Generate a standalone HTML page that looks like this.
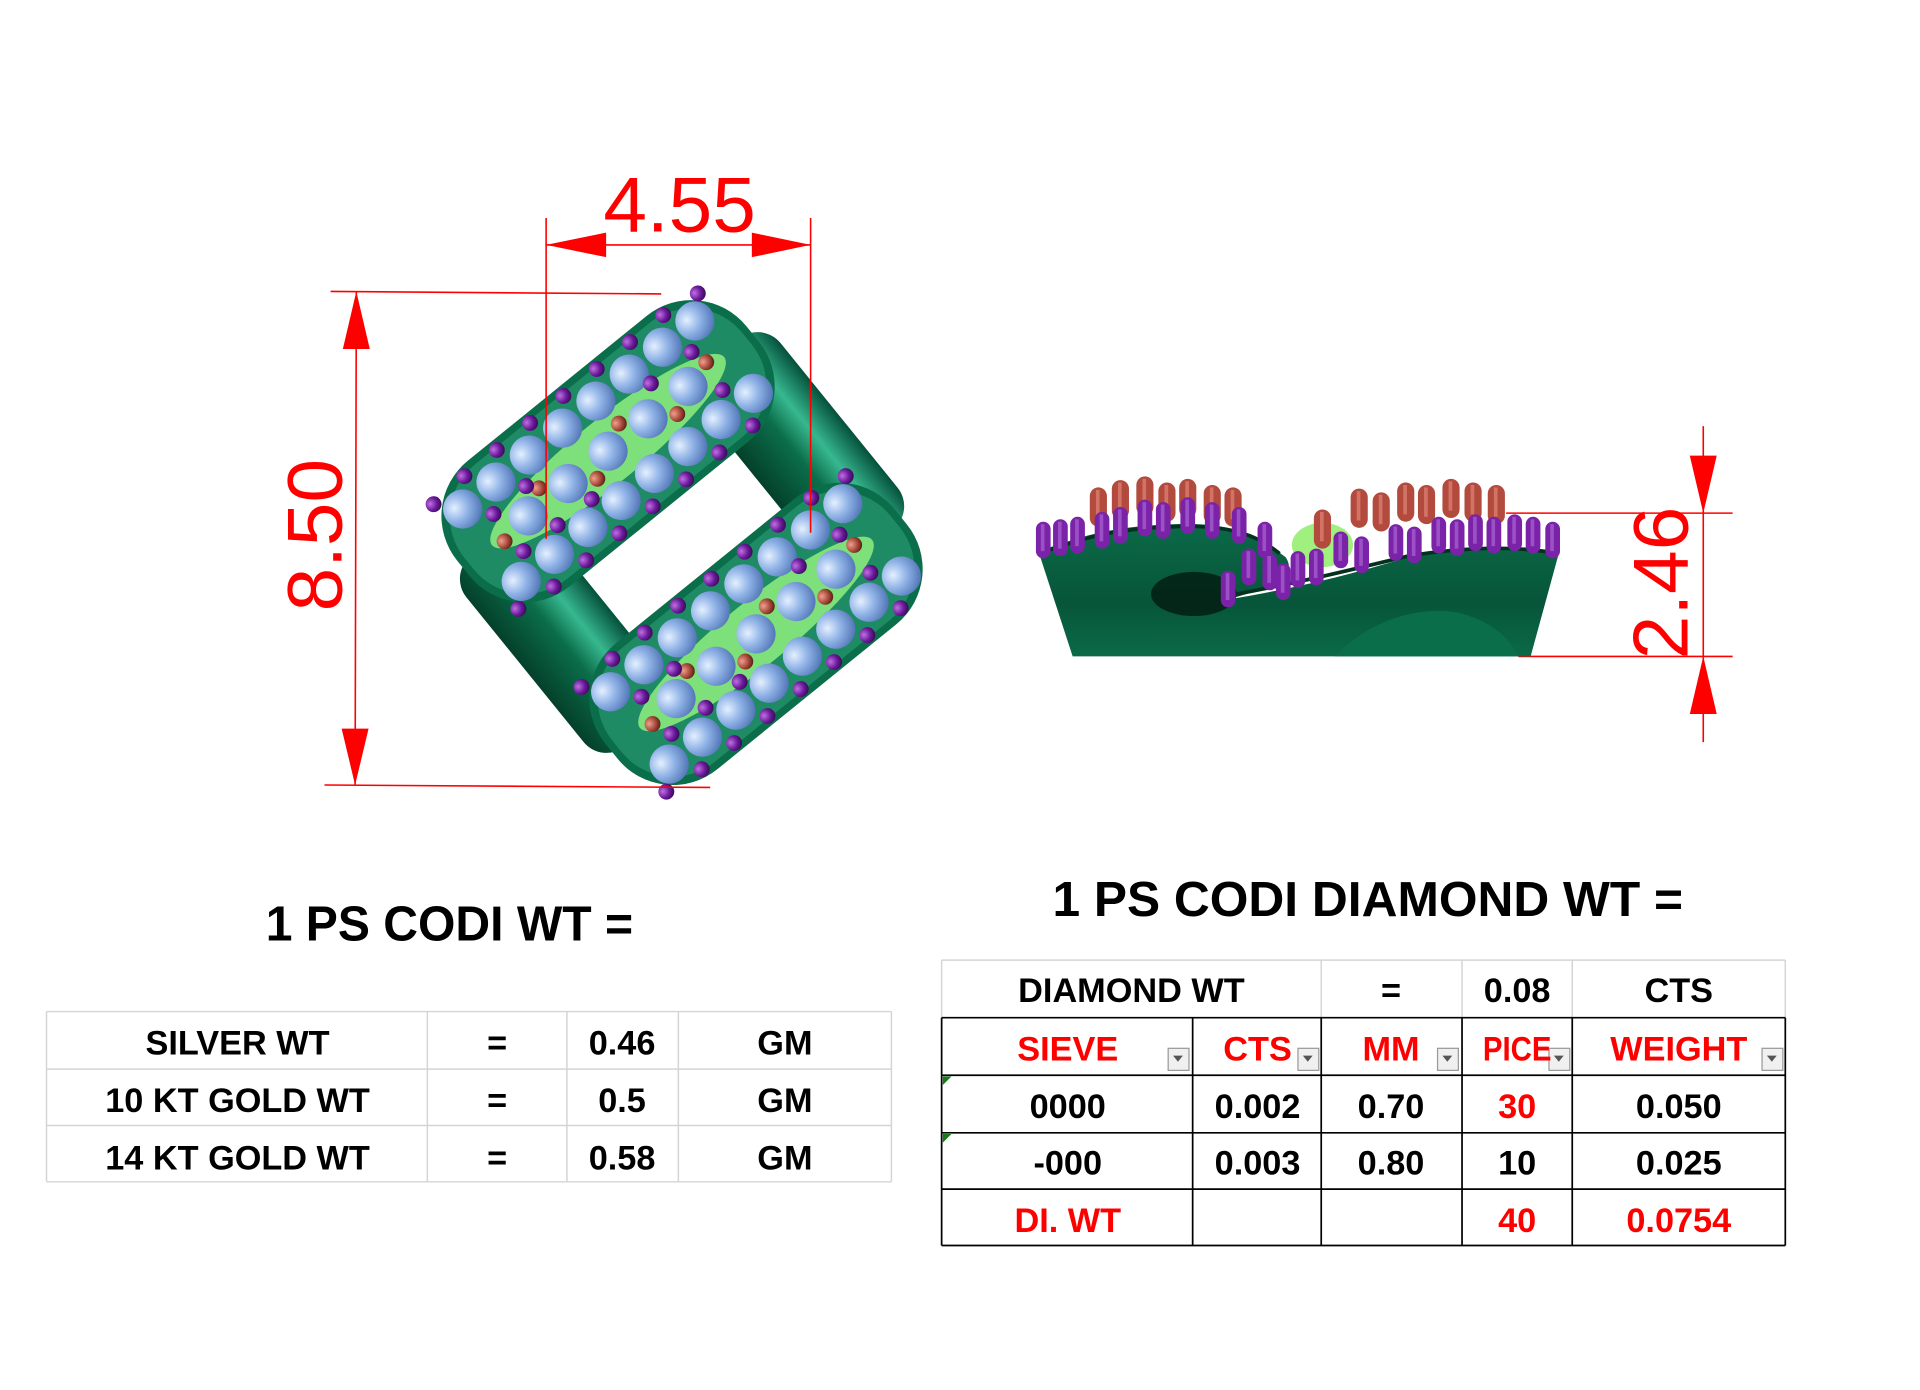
<!DOCTYPE html>
<html><head><meta charset="utf-8"><style>
html,body{margin:0;padding:0;background:#fff;}
svg{display:block}
.t{font-family:"Liberation Sans",Arial,sans-serif;font-weight:bold;}
.d{font-family:"Liberation Sans",Arial,sans-serif;fill:#f00;}
</style></head><body>
<svg width="1920" height="1390" viewBox="0 0 1568 1135" preserveAspectRatio="none" xmlns="http://www.w3.org/2000/svg">
<defs>
<linearGradient id="tube" x1="0" y1="0" x2="1" y2="0">
<stop offset="0" stop-color="#04402b"/><stop offset="0.45" stop-color="#0b6e4a"/><stop offset="0.7" stop-color="#37b88f"/><stop offset="1" stop-color="#05503a"/></linearGradient>
<radialGradient id="bl" cx="0.35" cy="0.35" r="0.7"><stop offset="0" stop-color="#e4f0ff"/><stop offset="0.5" stop-color="#8fb2e6"/><stop offset="1" stop-color="#5478b8"/></radialGradient>
<radialGradient id="pu" cx="0.35" cy="0.35" r="0.7"><stop offset="0" stop-color="#c070e0"/><stop offset="0.6" stop-color="#6a1a9a"/><stop offset="1" stop-color="#3a0a5a"/></radialGradient>
<radialGradient id="rd" cx="0.35" cy="0.35" r="0.7"><stop offset="0" stop-color="#f0a090"/><stop offset="0.6" stop-color="#a84a3a"/><stop offset="1" stop-color="#5a2018"/></radialGradient>
<linearGradient id="side" x1="0" y1="0" x2="0" y2="1"><stop offset="0" stop-color="#0b6a48"/><stop offset="0.6" stop-color="#07553a"/><stop offset="1" stop-color="#0a6a48"/></linearGradient>
<g id="B"><circle r="16" fill="url(#bl)"/></g>
<g id="P"><circle r="6.5" fill="url(#pu)"/></g>
<g id="R"><circle r="6.5" fill="url(#rd)"/></g>
<g id="PP"><rect x="-6" y="-14" width="12" height="30" rx="6" fill="#7a22a8"/><rect x="-2" y="-12" width="3" height="22" fill="#b070d8" opacity=".6"/></g>
<g id="RP"><rect x="-7" y="-16" width="14" height="32" rx="7" fill="#b24a3e"/><rect x="-2" y="-14" width="3" height="24" fill="#e89080" opacity=".6"/></g>
<g id="BAND">
<rect x="-152" y="-66" width="304" height="132" rx="58" fill="#0b6e4a"/>
<rect x="-146" y="-60" width="292" height="120" rx="54" fill="#4fcfa5" opacity=".3"/>
<ellipse cx="0" cy="0" rx="122" ry="26" fill="#7de07a"/>
<use href="#B" x="-122" y="-38"/><use href="#B" x="-87" y="-38"/><use href="#B" x="-52" y="-38"/><use href="#B" x="-17" y="-38"/><use href="#B" x="18" y="-38"/><use href="#B" x="53" y="-38"/><use href="#B" x="88" y="-38"/><use href="#B" x="122" y="-38"/>
<use href="#B" x="-84" y="0"/><use href="#B" x="-42" y="0"/><use href="#B" x="0" y="0"/><use href="#B" x="42" y="0"/><use href="#B" x="84" y="0"/>
<use href="#B" x="-122" y="38"/><use href="#B" x="-87" y="38"/><use href="#B" x="-52" y="38"/><use href="#B" x="-17" y="38"/><use href="#B" x="18" y="38"/><use href="#B" x="53" y="38"/><use href="#B" x="88" y="38"/><use href="#B" x="122" y="38"/>
<use href="#R" x="-112" y="4"/><use href="#R" x="-63" y="-12"/><use href="#R" x="-21" y="12"/><use href="#R" x="21" y="-12"/><use href="#R" x="63" y="12"/><use href="#R" x="108" y="-6"/>
<use href="#P" x="-138" y="-56"/><use href="#P" x="-104" y="-58"/><use href="#P" x="-70" y="-58"/><use href="#P" x="-35" y="-58"/><use href="#P" x="0" y="-58"/><use href="#P" x="35" y="-58"/><use href="#P" x="70" y="-58"/><use href="#P" x="105" y="-58"/><use href="#P" x="138" y="-54"/>
<use href="#P" x="-105" y="-19"/><use href="#P" x="-70" y="-20"/><use href="#P" x="62" y="-21"/><use href="#P" x="104" y="-20"/>
<use href="#P" x="-105" y="20"/><use href="#P" x="-70" y="21"/><use href="#P" x="-35" y="22"/><use href="#P" x="104" y="20"/>
<use href="#P" x="-138" y="54"/><use href="#P" x="-104" y="58"/><use href="#P" x="-70" y="58"/><use href="#P" x="-35" y="58"/><use href="#P" x="0" y="58"/><use href="#P" x="35" y="58"/><use href="#P" x="70" y="58"/><use href="#P" x="105" y="58"/>
</g>
</defs>

<!-- ring top view -->
<g transform="translate(557 443) rotate(-39)">
<rect x="80" y="-100" width="85" height="200" rx="24" fill="url(#tube)"/>
<rect x="-165" y="-100" width="85" height="200" rx="24" fill="url(#tube)"/>
<use href="#BAND" x="0" y="-96"/>
<use href="#BAND" x="0" y="96"/>
</g>

<!-- dimensions -->
<g stroke="#f00" stroke-width="1.3" fill="none">
<line x1="446" y1="178" x2="446" y2="440"/><line x1="662" y1="178" x2="662" y2="435"/>
<line x1="446" y1="200" x2="662" y2="200"/>
<line x1="270" y1="238" x2="540" y2="240"/><line x1="265" y1="641" x2="580" y2="643"/>
<line x1="291" y1="238" x2="290" y2="641"/>
<line x1="1230" y1="419" x2="1415" y2="419"/><line x1="1240" y1="536" x2="1415" y2="536"/>
<line x1="1391" y1="348" x2="1391" y2="606"/>
</g>
<g fill="#f00">
<polygon points="446,200 495,190 495,210"/><polygon points="662,200 614,190 614,210"/>
<polygon points="291,238 280,285 302,285"/><polygon points="290,641 279,595 301,595"/>
<polygon points="1391,419 1380,372 1402,372"/><polygon points="1391,536 1380,583 1402,583"/>
</g>
<text class="d" x="555" y="189" font-size="64" text-anchor="middle">4.55</text>
<text class="d" transform="translate(279 437) rotate(-90)" font-size="64" text-anchor="middle">8.50</text>
<text class="d" transform="translate(1378 476) rotate(-90)" font-size="64" text-anchor="middle">2.46</text>

<!-- side view -->
<path d="M848,450 C880,440 900,430 960,428 C1010,426 1030,440 1050,455 C1060,470 1040,480 1000,490 C1060,480 1100,470 1150,455 C1200,445 1240,445 1273,452 L1250,536 L876,536 Z" fill="url(#side)"/>
<ellipse cx="975" cy="485" rx="35" ry="18" fill="#021a10" opacity=".8"/>
<path d="M1090,536 C1120,505 1160,495 1190,500 C1210,505 1230,515 1240,536 Z" fill="#0b6e4a"/>
<path d="M848,452 C880,442 900,432 960,430 C1010,428 1030,440 1045,452" stroke="#04301f" stroke-width="3" fill="none"/>
<path d="M1005,486 C1060,476 1100,466 1150,454 C1200,446 1240,446 1273,452" stroke="#04301f" stroke-width="3" fill="none"/>
<ellipse cx="1080" cy="445" rx="25" ry="18" fill="#a0f080"/>
<g>
<use href="#RP" x="897" y="414"/><use href="#RP" x="915" y="408"/><use href="#RP" x="935" y="405"/><use href="#RP" x="953" y="410"/><use href="#RP" x="970" y="407"/><use href="#RP" x="990" y="412"/><use href="#RP" x="1007" y="414"/>
<use href="#RP" x="1110" y="415"/><use href="#RP" x="1128" y="418"/><use href="#RP" x="1148" y="410"/><use href="#RP" x="1165" y="412"/><use href="#RP" x="1185" y="407"/><use href="#RP" x="1203" y="410"/><use href="#RP" x="1222" y="412"/><use href="#RP" x="1080" y="432"/>
<use href="#PP" x="852" y="440"/><use href="#PP" x="866" y="438"/><use href="#PP" x="880" y="436"/><use href="#PP" x="900" y="432"/><use href="#PP" x="915" y="428"/><use href="#PP" x="935" y="422"/><use href="#PP" x="950" y="424"/><use href="#PP" x="970" y="420"/><use href="#PP" x="990" y="424"/><use href="#PP" x="1012" y="428"/><use href="#PP" x="1033" y="440"/>
<use href="#PP" x="1003" y="480"/><use href="#PP" x="1020" y="462"/><use href="#PP" x="1037" y="466"/><use href="#PP" x="1048" y="474"/><use href="#PP" x="1060" y="464"/><use href="#PP" x="1075" y="462"/><use href="#PP" x="1095" y="448"/><use href="#PP" x="1112" y="452"/><use href="#PP" x="1140" y="442"/><use href="#PP" x="1155" y="444"/><use href="#PP" x="1175" y="436"/><use href="#PP" x="1190" y="438"/><use href="#PP" x="1205" y="434"/><use href="#PP" x="1220" y="436"/><use href="#PP" x="1237" y="434"/><use href="#PP" x="1252" y="436"/><use href="#PP" x="1268" y="440"/>
</g>

<!-- titles -->
<text class="t" x="367" y="768" font-size="40" text-anchor="middle" textLength="300" lengthAdjust="spacingAndGlyphs">1 PS CODI WT =</text>
<text class="t" x="1117" y="748" font-size="40" text-anchor="middle" textLength="515" lengthAdjust="spacingAndGlyphs">1 PS CODI DIAMOND WT =</text>

<!-- left table -->
<g stroke="#d4d4d4" stroke-width="1.2">
<line x1="38" y1="826" x2="728" y2="826"/><line x1="38" y1="873" x2="728" y2="873"/><line x1="38" y1="919" x2="728" y2="919"/><line x1="38" y1="965" x2="728" y2="965"/>
<line x1="38" y1="826" x2="38" y2="965"/><line x1="349" y1="826" x2="349" y2="965"/><line x1="463" y1="826" x2="463" y2="965"/><line x1="554" y1="826" x2="554" y2="965"/><line x1="728" y1="826" x2="728" y2="965"/>
</g>
<g class="t" font-size="28" text-anchor="middle" fill="#000">
<text x="194" y="861">SILVER WT</text><text x="406" y="861">=</text><text x="508" y="861">0.46</text><text x="641" y="861">GM</text>
<text x="194" y="908">10 KT GOLD WT</text><text x="406" y="908">=</text><text x="508" y="908">0.5</text><text x="641" y="908">GM</text>
<text x="194" y="955">14 KT GOLD WT</text><text x="406" y="955">=</text><text x="508" y="955">0.58</text><text x="641" y="955">GM</text>
</g>

<!-- right table -->
<g stroke="#d4d4d4" stroke-width="1.2">
<line x1="769" y1="784" x2="1458" y2="784"/><line x1="769" y1="784" x2="769" y2="831"/><line x1="1079" y1="784" x2="1079" y2="831"/><line x1="1194" y1="784" x2="1194" y2="831"/><line x1="1284" y1="784" x2="1284" y2="831"/><line x1="1458" y1="784" x2="1458" y2="831"/>
</g>
<g stroke="#000" stroke-width="1.4">
<line x1="769" y1="831" x2="1458" y2="831"/><line x1="769" y1="878" x2="1458" y2="878"/><line x1="769" y1="925" x2="1458" y2="925"/><line x1="769" y1="971" x2="1458" y2="971"/><line x1="769" y1="1017" x2="1458" y2="1017"/>
<line x1="769" y1="831" x2="769" y2="1017"/><line x1="974" y1="831" x2="974" y2="1017"/><line x1="1079" y1="831" x2="1079" y2="1017"/><line x1="1194" y1="831" x2="1194" y2="1017"/><line x1="1284" y1="831" x2="1284" y2="1017"/><line x1="1458" y1="831" x2="1458" y2="1017"/>
</g>
<g fill="#f0f0f0" stroke="#999" stroke-width="1">
<rect x="954" y="856" width="17" height="18"/><rect x="1060" y="856" width="17" height="18"/><rect x="1174" y="856" width="17" height="18"/><rect x="1265" y="856" width="17" height="18"/><rect x="1439" y="856" width="17" height="18"/>
</g>
<g fill="#555"><polygon points="958,862 966,862 962,867"/><polygon points="1064,862 1072,862 1068,867"/><polygon points="1178,862 1186,862 1182,867"/><polygon points="1269,862 1277,862 1273,867"/><polygon points="1443,862 1451,862 1447,867"/></g>
<polygon points="770,879 777,879 770,886" fill="#1a7a1a"/><polygon points="770,926 777,926 770,933" fill="#1a7a1a"/>
<g class="t" font-size="28" text-anchor="middle" fill="#000">
<text x="924" y="818">DIAMOND WT</text><text x="1136" y="818">=</text><text x="1239" y="818">0.08</text><text x="1371" y="818">CTS</text>
<g fill="#f00"><text x="872" y="866">SIEVE</text><text x="1027" y="866">CTS</text><text x="1136" y="866">MM</text><text x="1239" y="866" textLength="56" lengthAdjust="spacingAndGlyphs">PICE</text><text x="1371" y="866">WEIGHT</text></g>
<text x="872" y="913">0000</text><text x="1027" y="913">0.002</text><text x="1136" y="913">0.70</text><text x="1239" y="913" fill="#f00">30</text><text x="1371" y="913">0.050</text>
<text x="872" y="959">-000</text><text x="1027" y="959">0.003</text><text x="1136" y="959">0.80</text><text x="1239" y="959">10</text><text x="1371" y="959">0.025</text>
<g fill="#f00"><text x="872" y="1006">DI. WT</text><text x="1239" y="1006">40</text><text x="1371" y="1006">0.0754</text></g>
</g>
</svg>
</body></html>
